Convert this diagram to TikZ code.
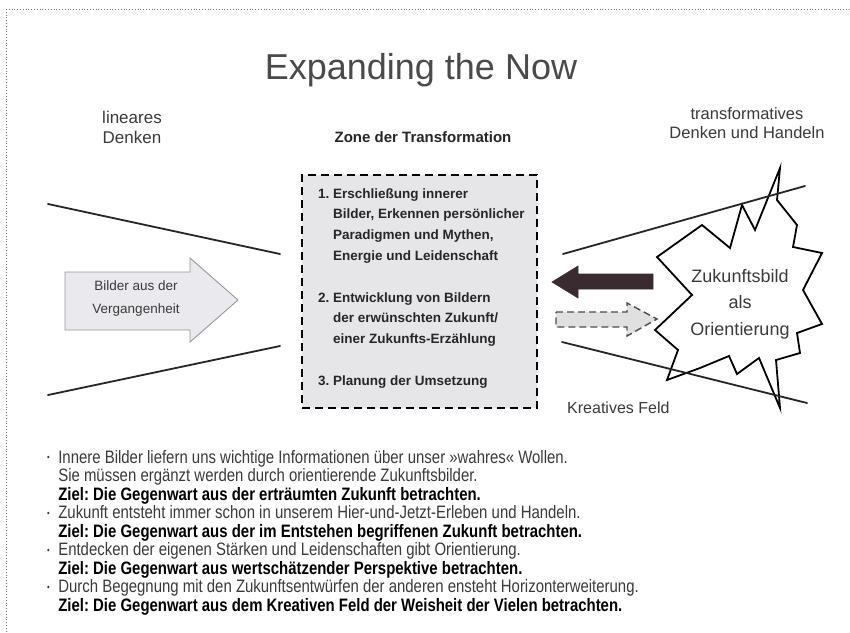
\documentclass[tikz,border=0pt]{standalone}
\usepackage{fontspec}
\setmainfont{Liberation Sans}
\newfontfamily\narrowsans[FakeStretch=0.83]{Liberation Sans}
\usepackage{xcolor}
\usetikzlibrary{positioning,calc}
\frenchspacing

\definecolor{inkgray}{HTML}{3A3A3A}
\definecolor{titlegray}{HTML}{4A4A4A}
\definecolor{zonefill}{HTML}{E6E6E8}
\definecolor{pastfill}{HTML}{E9E9EE}
\definecolor{darkarrow}{HTML}{3A2B30}
\newcommand{\notebullet}{\raisebox{2.5pt}{\fontsize{9}{9}\selectfont\textbullet}}

\begin{document}
\begin{tikzpicture}[x=1pt, y=-1pt,
  titl/.style={font=\fontsize{36}{40}\selectfont, text=titlegray, inner sep=0pt},
  labl/.style={font=\fontsize{17}{20}\selectfont, text=inkgray, align=center, inner sep=0pt},
  zonelabl/.style={font=\fontsize{15}{18}\selectfont\bfseries, text=black!85, inner sep=0pt},
  zonebox/.style={draw=black, fill=zonefill, line width=2.6pt,
                  dash pattern=on 8pt off 5pt, minimum width=235pt, minimum height=233pt},
  zonetxt/.style={font=\fontsize{13.5}{20.8}\selectfont\bfseries, text=black!85, inner sep=0pt},
  fieldline/.style={line width=1.8pt, draw=black!85, line cap=round},
  pastarrow/.style={draw=black!40, fill=pastfill, line width=0.9pt},
  backarrow/.style={draw=darkarrow, fill=darkarrow, line width=0.6pt},
  dasharrow/.style={draw=black!70, fill=black!12, line width=1.4pt, dash pattern=on 7pt off 4pt},
  burst/.style={draw=black, fill=white, line width=1.8pt, line join=miter},
  notes/.style={font=\narrowsans\fontsize{18}{18.3}\selectfont, text=inkgray, inner sep=0pt},
  frame/.style={draw=black!55, line width=0.8pt, dotted},
]
\useasboundingbox (0,0) rectangle (850,632);
\fill[white] (0,0) rectangle (850,632);

% dotted page frame
\draw[frame] (6,9) -- (850,9);
\draw[frame] (6,9) -- (6,632);

% headings
\node[titl, anchor=base] (title) at (421,79) {Expanding the Now};
\node[labl, anchor=north] (linear) at (132,110.5) {lineares\\Denken};
\node[zonelabl, anchor=base] (zonetitle) at (423,142) {Zone der Transformation};
\node[labl, font=\fontsize{16.5}{19}\selectfont, anchor=north] (transf) at (747,107)
      {transformatives\\Denken und Handeln};

% lines of the field
\coordinate (lu1) at (48,204);  \coordinate (lu2) at (280,254);
\coordinate (ll1) at (48,395);  \coordinate (ll2) at (280,346);
\coordinate (ru1) at (563,254); \coordinate (ru2) at (805,186);
\coordinate (rl1) at (562,342); \coordinate (rl2) at (807,403);
\draw[fieldline] (lu1) -- (lu2);
\draw[fieldline] (ll1) -- (ll2);

% past images arrow
\draw[pastarrow] (65,272) -- (190,272) -- (190,258) -- (238,300)
      -- (190,342) -- (190,330) -- (65,330) -- cycle;
\node[labl, font=\fontsize{13.5}{23}\selectfont, anchor=north] (past) at (136,281)
      {Bilder aus der\\Vergangenheit};

% zone of transformation
\node[zonebox] (zone) at (419.5,291.5) {};
\node[zonetxt, anchor=north west] (steps) at (318,183.4) {%
  \begin{tabular}{@{}l@{\ }l@{}}
  1. & Erschließung innerer\\
     & Bilder, Erkennen persönlicher\\
     & Paradigmen und Mythen,\\
     & Energie und Leidenschaft\\[20.8pt]
  2. & Entwicklung von Bildern\\
     & der erwünschten Zukunft/\\
     & einer Zukunfts-Erzählung\\[20.8pt]
  3. & Planung der Umsetzung
  \end{tabular}};

% future image burst
\draw[burst] (657,257) -- (702,225) -- (730,248) -- (742,205) -- (755,230)
      -- (780,168) -- (777,200) -- (797,225) -- (793,247) -- (822,253)
      -- (803,290) -- (822,324) -- (797,333) -- (800,353) -- (776,360)
      -- (780,408) -- (759,358) -- (737,374) -- (729,356) -- (700,368)
      -- (667,380) -- (678,350) -- (655,330) -- (692,295) -- cycle;
\node[labl, font=\fontsize{18}{26.5}\selectfont, anchor=north] (vision) at (740,269)
      {Zukunftsbild\\als\\Orientierung};
\draw[fieldline] (ru1) -- (ru2);
\draw[fieldline] (rl1) -- (rl2);

% arrows between future and zone
\draw[backarrow] (552,282) -- (578,266) -- (578,274) -- (653,274) -- (653,289)
      -- (578,289) -- (578,298) -- cycle;
\draw[dasharrow] (556,312) -- (627,312) -- (627,303) -- (657,319) -- (627,336)
      -- (627,327) -- (556,327) -- cycle;

\node[labl, font=\fontsize{16}{19}\selectfont, anchor=base west] (field) at (567,413)
      {Kreatives Feld};

% notes below
\node[notes, anchor=north west] (list) at (47,450) {%
  \begin{tabular}{@{}l@{\hspace{8.5pt}}l@{}}
  \notebullet & Innere Bilder liefern uns wichtige Informationen über unser »wahres« Wollen.\\
   & Sie müssen ergänzt werden durch orientierende Zukunftsbilder.\\
   & \textcolor{black}{\bfseries Ziel: Die Gegenwart aus der erträumten Zukunft betrachten.}\\
  \notebullet & Zukunft entsteht immer schon in unserem Hier-und-Jetzt-Erleben und Handeln.\\
   & \textcolor{black}{\bfseries Ziel: Die Gegenwart aus der im Entstehen begriffenen Zukunft betrachten.}\\
  \notebullet & Entdecken der eigenen Stärken und Leidenschaften gibt Orientierung.\\
   & \textcolor{black}{\bfseries Ziel: Die Gegenwart aus wertschätzender Perspektive betrachten.}\\
  \notebullet & Durch Begegnung mit den Zukunftsentwürfen der anderen ensteht Horizonterweiterung.\\
   & \textcolor{black}{\bfseries Ziel: Die Gegenwart aus dem Kreativen Feld der Weisheit der Vielen betrachten.}
  \end{tabular}};
\end{tikzpicture}
\end{document}
